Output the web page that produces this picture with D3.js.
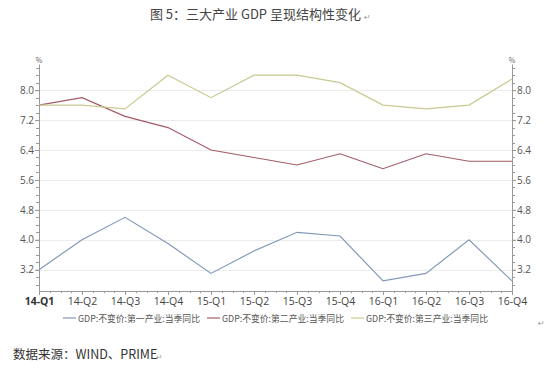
<!DOCTYPE html>
<html>
<head>
<meta charset="utf-8">
<script src="https://cdn.jsdelivr.net/npm/d3@7"></script>
<style>
  body { margin: 0; background: #fff; }
  svg { font-family: "Noto Sans CJK SC", "DejaVu Sans", sans-serif; }
</style>
</head>
<body>
<svg id="chart" width="550" height="368"></svg>
<script>
// ---------------- data ----------------
var quarters = ["14-Q1", "14-Q2", "14-Q3", "14-Q4", "15-Q1", "15-Q2", "15-Q3", "15-Q4", "16-Q1", "16-Q2", "16-Q3", "16-Q4"];
var primary   = [3.2, 4.0, 4.6, 3.9, 3.1, 3.7, 4.2, 4.1, 2.9, 3.1, 4.0, 2.9];
var secondary = [7.6, 7.8, 7.3, 7.0, 6.4, 6.2, 6.0, 6.3, 5.9, 6.3, 6.1, 6.1];
var tertiary  = [7.6, 7.6, 7.5, 8.4, 7.8, 8.4, 8.4, 8.2, 7.6, 7.5, 7.6, 8.3];
var yTicks = [3.2, 4.0, 4.8, 5.6, 6.4, 7.2, 8.0];
var seriesNames = ["GDP:不变价:第一产业:当季同比", "GDP:不变价:第二产业:当季同比", "GDP:不变价:第三产业:当季同比"];
var seriesColors = ["#8398b9", "#a35b68", "#c9c992"];

var series = [primary, secondary, tertiary].map(function(vals, i){
    return { name: seriesNames[i], color: seriesColors[i], values: vals };
});

var svg = d3.select('#chart');
var plotLeft = 39, plotRight = 512, plotTop = 64, plotBottom = 291;

// title (ends right before the paragraph mark)
svg.append('text')
    .attr('x', 361).attr('y', 19)
    .attr('text-anchor', 'end')
    .attr('font-size', 13)
    .attr('fill', '#444')
    .text('图 5：三大产业 GDP 呈现结构性变化');
svg.append('text')
    .attr('x', 364).attr('y', 20)
    .attr('font-size', 8).attr('fill', '#999')
    .text('↵');

// scales
var xScale = d3.scalePoint()
    .domain(quarters)
    .range([plotLeft, plotRight]);

var yScale = d3.scaleLinear()
    .domain([2.63, 8.7])
    .range([plotBottom, plotTop]);

// gridlines
svg.append('g')
    .selectAll('line')
    .data(yTicks)
    .enter()
    .append('line')
        .attr('x1', plotLeft).attr('x2', plotRight)
        .attr('y1', d => Math.round(yScale(d)) + 0.5).attr('y2', d => Math.round(yScale(d)) + 0.5)
        .attr('stroke', '#ececec')
        .attr('stroke-width', 1);

// minor y ticks (every 0.2)
var minorY = d3.range(2.8, 8.7, 0.2);

function yAxisMinor(g, x, dir){
    g.selectAll('line.minor')
        .data(minorY)
        .enter()
        .append('line')
            .attr('x1', x).attr('x2', x + dir * 3)
            .attr('y1', d => Math.round(yScale(d)) + 0.5)
            .attr('y2', d => Math.round(yScale(d)) + 0.5)
            .attr('stroke', '#999');
}

// left axis
var yAxisL = svg.append('g')
    .attr('transform', 'translate(' + plotLeft + ',0)')
    .call(d3.axisLeft(yScale).tickValues(yTicks).tickFormat(d3.format('.1f')).tickSize(4).tickSizeOuter(0));
yAxisMinor(svg.append('g'), plotLeft, -1);

// right axis
var yAxisR = svg.append('g')
    .attr('transform', 'translate(' + plotRight + ',0)')
    .call(d3.axisRight(yScale).tickValues(yTicks).tickFormat(d3.format('.1f')).tickSize(4).tickSizeOuter(0));
yAxisMinor(svg.append('g'), plotRight, 1);

[yAxisL, yAxisR].forEach(function(ax){
    ax.select('.domain').attr('stroke', '#999');
    ax.selectAll('.tick line').attr('stroke', '#999');
    ax.selectAll('.tick text')
        .attr('fill', '#555')
        .attr('font-size', 10)
        .attr('font-family', '"Open Sans", "DejaVu Sans", sans-serif');
});
yAxisL.selectAll('.tick text').attr('x', -5);
yAxisR.selectAll('.tick text').attr('x', 5);

// % units
svg.append('text').attr('x', plotLeft).attr('y', plotTop - 1).attr('font-size', 7).attr('fill', '#666').attr('text-anchor', 'middle').text('%');
svg.append('text').attr('x', plotRight).attr('y', plotTop - 1).attr('font-size', 7).attr('fill', '#666').attr('text-anchor', 'middle').text('%');

// x axis
var xAxis = svg.append('g')
    .attr('transform', 'translate(0,' + plotBottom + ')')
    .call(d3.axisBottom(xScale).tickSize(4).tickSizeOuter(0));
xAxis.select('.domain').attr('stroke', '#999');
xAxis.selectAll('.tick line').attr('stroke', '#999');
xAxis.selectAll('.tick text')
    .attr('fill', '#444')
    .attr('font-size', 10.5)
    .attr('font-family', '"Open Sans", "DejaVu Sans", sans-serif')
    .attr('y', 7);
xAxis.select('.tick text').attr('font-weight', 'bold').attr('fill', '#333');

// minor x ticks
var step = xScale.step();
var minorX = [];
quarters.slice(0, -1).forEach(function(q){
    for (var k = 1; k < 4; k++) minorX.push(xScale(q) + step * k / 4);
});
svg.append('g')
    .selectAll('line')
    .data(minorX)
    .enter()
    .append('line')
        .attr('x1', d => Math.round(d) + 0.5).attr('x2', d => Math.round(d) + 0.5)
        .attr('y1', plotBottom).attr('y2', plotBottom + 2)
        .attr('stroke', '#999');

// lines
var line = d3.line()
    .x((d, i) => xScale(quarters[i]))
    .y(d => yScale(d));

svg.append('g')
    .selectAll('path')
    .data(series)
    .enter()
    .append('path')
        .attr('d', d => line(d.values))
        .attr('fill', 'none')
        .attr('stroke', d => d.color)
        .attr('stroke-width', 1.2);

// legend
var legendX = [63, 207, 351];
var legend = svg.append('g')
    .selectAll('g')
    .data(series)
    .enter()
    .append('g')
        .attr('transform', (d, i) => 'translate(' + legendX[i] + ',318)');
legend.append('line')
    .attr('x1', 0).attr('x2', 13)
    .attr('y1', 0).attr('y2', 0)
    .attr('stroke', d => d.color)
    .attr('stroke-width', 1.2);
legend.append('text')
    .attr('x', 15).attr('y', 3.5)
    .attr('font-size', 9.2)
    .attr('textLength', 122)
    .attr('lengthAdjust', 'spacingAndGlyphs')
    .attr('fill', '#555')
    .text(d => d.name);

svg.append('text')
    .attr('x', 538).attr('y', 326)
    .attr('font-size', 8).attr('fill', '#999')
    .text('↵');

// source
svg.append('text')
    .attr('x', 13).attr('y', 359)
    .attr('font-size', 12.5)
    .attr('fill', '#333')
    .text('数据来源：WIND、PRIME');
svg.append('text')
    .attr('x', 156).attr('y', 360)
    .attr('font-size', 8).attr('fill', '#999')
    .text('↵');
</script>
</body>
</html>
